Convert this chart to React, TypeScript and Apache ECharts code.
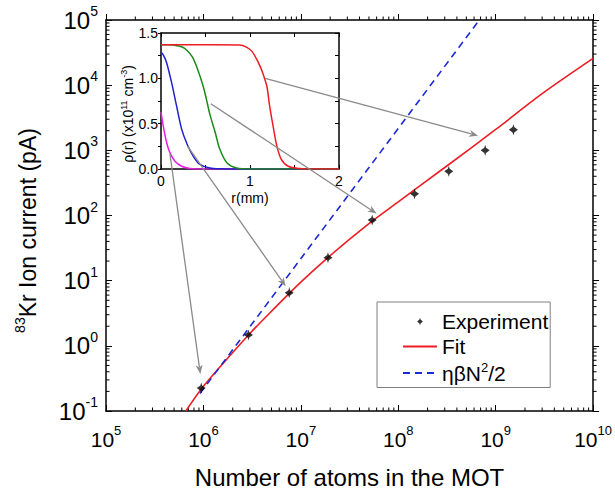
import React, { useEffect, useRef } from 'react';
import * as echarts from 'echarts';

const FONT = "'Liberation Sans', Arial, Helvetica, sans-serif";

// Main plot: experiment points
const expN = [9.5e5, 2.9e6, 7.6e6, 1.9e7, 5.4e7, 1.47e8, 3.3e8, 7.8e8, 1.52e9];
const expI = [0.225, 1.47, 6.5, 22.5, 85, 215, 476, 1000, 2070];

// Fit curve
const fitN = [6.6e5, 1e6, 2e6, 3e6, 5e6, 1e7, 2e7, 5e7, 1e8, 3e8, 1e9, 3e9, 1e10];
const fitI = [0.1, 0.24, 0.79, 1.55, 3.4, 9.5, 24.3, 75, 162, 545, 2090, 7400, 25700];

// eta*beta*N^2/2 dashed line
const dashN = [9.2e5, 6.8e8];
const dashI = [0.185, 1e5];

// Inset density profiles
const redR = [0, 0.3, 0.6, 0.88, 0.96, 1.02, 1.07, 1.11, 1.15, 1.19, 1.22, 1.26, 1.3, 1.35, 1.43, 1.56, 1.7, 2.0];
const redRho = [1.37, 1.37, 1.37, 1.368, 1.345, 1.3, 1.22, 1.14, 1.04, 0.91, 0.7, 0.47, 0.26, 0.11, 0.03, 0.005, 0, 0];
const greenR = [0, 0.1, 0.18, 0.24, 0.29, 0.35, 0.4, 0.475, 0.51, 0.55, 0.61, 0.66, 0.74, 0.85, 1.0, 2.0];
const greenRho = [1.37, 1.37, 1.36, 1.345, 1.31, 1.24, 1.13, 0.91, 0.77, 0.6, 0.4, 0.22, 0.07, 0.012, 0, 0];
const blueR = [0, 0.03, 0.064, 0.12, 0.176, 0.232, 0.295, 0.363, 0.437, 0.55, 0.74, 2.0];
const blueRho = [1.29, 1.25, 1.17, 0.95, 0.69, 0.44, 0.27, 0.14, 0.05, 0.01, 0, 0];
const magR = [0, 0.026, 0.064, 0.1, 0.157, 0.232, 0.325, 0.5, 2.0];
const magRho = [0.63, 0.47, 0.29, 0.18, 0.085, 0.03, 0.006, 0, 0];

// Arrows: start on inset curve (r, rho) -> end in main plot (N, I)
const arrowStarts = [[1.17, 1.0], [0.56, 0.72], [0.3, 0.25], [0.1, 0.17]];
const arrowEnds = [[6.6e8, 1680], [6.0e7, 107], [7.0e6, 8.2], [9.3e5, 0.37]];

// axis structure
const X_MIN = 1e5, X_MAX = 1e10, Y_MIN = 0.1, Y_MAX = 1e5;
const xMinorTicks: number[] = [];
for (let e = 5; e < 10; e++) for (let m = 2; m <= 9; m++) xMinorTicks.push(m * Math.pow(10, e));
const yMinorTicks: number[] = [];
for (let e = -1; e < 5; e++) for (let m = 2; m <= 9; m++) yMinorTicks.push(m * Math.pow(10, e));

const STAR = 'path://M5 0 L5.7 2.6 L8.6 5 L5.7 7.4 L5 10 L4.3 7.4 L1.4 5 L4.3 2.6 Z';

const powLabel = (v: number) => {
  const e = Math.round(Math.log10(v));
  return '{b|10}{s|' + e + '}';
};

const xLabelRich = {
  b: { fontSize: 21, lineHeight: 30, fontFamily: FONT, color: '#000' },
  s: { fontSize: 13, lineHeight: 14, verticalAlign: 'top', fontFamily: FONT, color: '#000' },
};
const yLabelRich = {
  b: { fontSize: 24, lineHeight: 32, fontFamily: FONT, color: '#000' },
  s: { fontSize: 14, lineHeight: 15, verticalAlign: 'top', fontFamily: FONT, color: '#000' },
};

export default function App() {
  const ref = useRef<HTMLDivElement>(null);
  useEffect(() => {
    if (!ref.current) return;
    const chart = echarts.init(ref.current, undefined, { renderer: 'svg' });
    const black = { color: '#000' };
    const option: any = {
      animation: false,
      backgroundColor: '#fff',
      grid: [
        { left: 106, top: 20, width: 488, height: 392, show: false },
        { left: 161, top: 33, width: 178, height: 136, show: true, backgroundColor: '#fff', borderWidth: 0 },
      ],
      legend: {
        left: 377,
        top: 302,
        orient: 'vertical',
        align: 'left',
        padding: [9, 2, 4, 25],
        itemGap: 4,
        itemWidth: 34,
        itemHeight: 8,
        borderColor: '#808080',
        borderWidth: 1,
        backgroundColor: '#fff',
        data: [
          { name: 'Experiment' },
          { name: 'Fit', itemStyle: { opacity: 0 } },
          { name: 'dash', itemStyle: { opacity: 0 } },
        ],
        formatter: (name: string) => (name === 'dash' ? '{n|ηβN}{s|2}{n|/2}' : '{n|' + name + '}'),
        textStyle: {
          fontFamily: FONT,
          fontSize: 21,
          color: '#000',
          rich: {
            n: { fontSize: 21, lineHeight: 24, fontFamily: FONT, color: '#000' },
            s: { fontSize: 13, lineHeight: 14, verticalAlign: 'top', fontFamily: FONT, color: '#000' },
          },
        },
      },
      xAxis: [
        {
          type: 'log', gridIndex: 0, min: X_MIN, max: X_MAX, logBase: 10,
          axisLine: { show: true, onZero: false, lineStyle: { color: '#000', width: 1.5 } },
          axisTick: { show: true, inside: true, length: 6, lineStyle: { color: '#000', width: 1 } },
          axisLabel: { formatter: powLabel, rich: xLabelRich, margin: 13, showMinLabel: true, showMaxLabel: true },
          splitLine: { show: false },
          name: 'Number of atoms in the MOT',
          nameLocation: 'middle',
          nameGap: 54,
          nameTextStyle: { fontFamily: FONT, fontSize: 24, color: '#000' },
        },
        {
          type: 'log', gridIndex: 0, position: 'top', min: X_MIN, max: X_MAX, logBase: 10,
          axisLine: { show: true, onZero: false, lineStyle: { color: '#000', width: 1.5 } },
          axisTick: { show: true, inside: false, length: 6, lineStyle: { color: '#000', width: 1 } },
          axisLabel: { show: false },
          splitLine: { show: false },
        },
        {
          type: 'value', gridIndex: 1, min: 0, max: 2, interval: 1,
          axisLine: { show: true, onZero: false, lineStyle: { color: '#000', width: 1.5 } },
          axisTick: { show: true, inside: true, length: 4, lineStyle: black },
          minorTick: { show: true, splitNumber: 2, length: 4, lineStyle: black },
          axisLabel: { fontFamily: FONT, fontSize: 14, lineHeight: 14, color: '#000', margin: 5 },
          splitLine: { show: false },
          name: 'r(mm)',
          nameLocation: 'middle',
          nameGap: 22,
          nameTextStyle: { fontFamily: FONT, fontSize: 14, color: '#000' },
        },
        {
          type: 'value', gridIndex: 1, position: 'top', min: 0, max: 2, interval: 1,
          axisLine: { show: true, onZero: false, lineStyle: { color: '#000', width: 1.5 } },
          axisTick: { show: true, inside: true, length: 4, lineStyle: black },
          minorTick: { show: true, splitNumber: 2, length: 4, lineStyle: black },
          axisLabel: { show: false },
          splitLine: { show: false },
        },
      ],
      yAxis: [
        {
          type: 'log', gridIndex: 0, min: Y_MIN, max: Y_MAX, logBase: 10,
          axisLine: { show: true, onZero: false, lineStyle: { color: '#000', width: 1.5 } },
          axisTick: { show: true, inside: true, length: 6, lineStyle: { color: '#000', width: 1 } },
          axisLabel: { formatter: powLabel, rich: yLabelRich, margin: 8, showMinLabel: true, showMaxLabel: true },
          splitLine: { show: false },
          name: '{s|83}{n|Kr Ion current (pA)}',
          nameLocation: 'middle',
          nameGap: 63,
          nameTextStyle: {
            fontFamily: FONT, fontSize: 23, color: '#000',
            padding: [0, 30, 0, 0],
            rich: {
              n: { fontSize: 23, lineHeight: 30, fontFamily: FONT, color: '#000' },
              s: { fontSize: 14, lineHeight: 15, verticalAlign: 'top', fontFamily: FONT, color: '#000' },
            },
          },
        },
        {
          type: 'log', gridIndex: 0, position: 'right', min: Y_MIN, max: Y_MAX, logBase: 10,
          axisLine: { show: true, onZero: false, lineStyle: { color: '#000', width: 1.5 } },
          axisTick: { show: true, inside: false, length: 6, lineStyle: { color: '#000', width: 1 } },
          axisLabel: { show: false },
          splitLine: { show: false },
        },
        {
          type: 'value', gridIndex: 1, min: 0, max: 1.5, interval: 0.5,
          axisLine: { show: true, onZero: false, lineStyle: { color: '#000', width: 1.5 } },
          axisTick: { show: true, inside: false, length: 3, lineStyle: black },
          minorTick: { show: true, splitNumber: 2, length: 3, lineStyle: black },
          axisLabel: { fontFamily: FONT, fontSize: 14, lineHeight: 12, color: '#000', margin: 3, formatter: (v: number) => v.toFixed(1) },
          splitLine: { show: false },
          name: '{n|ρ(r) (x10}{s|11}{n| cm}{s|-3}{n|)}',
          nameLocation: 'middle',
          nameGap: 21,
          nameTextStyle: {
            fontFamily: FONT, fontSize: 14, color: '#000',
            padding: [0, 26, 0, 0],
            rich: {
              n: { fontSize: 14, lineHeight: 16, fontFamily: FONT, color: '#000' },
              s: { fontSize: 9, lineHeight: 10, verticalAlign: 'top', fontFamily: FONT, color: '#000' },
            },
          },
        },
        {
          type: 'value', gridIndex: 1, position: 'right', min: 0, max: 1.5, interval: 0.5,
          axisLine: { show: true, onZero: false, lineStyle: { color: '#000', width: 1.5 } },
          axisTick: { show: true, inside: true, length: 4, lineStyle: black },
          minorTick: { show: true, splitNumber: 2, length: 4, lineStyle: black },
          axisLabel: { show: false },
          splitLine: { show: false },
        },
      ],
      series: [
        {
          type: 'custom', name: 'xminor', xAxisIndex: 0, yAxisIndex: 0, silent: true, clip: false,
          data: xMinorTicks.map((v) => [v, 1]),
          renderItem: (params: any, api: any) => {
            const v = api.value(0);
            const pb = api.coord([v, Y_MIN]);
            const pt = api.coord([v, Y_MAX]);
            return {
              type: 'group',
              children: [
                { type: 'line', shape: { x1: pb[0], y1: pb[1], x2: pb[0], y2: pb[1] - 3.5 }, style: { stroke: '#000', lineWidth: 1 } },
                { type: 'line', shape: { x1: pt[0], y1: pt[1], x2: pt[0], y2: pt[1] - 3.5 }, style: { stroke: '#000', lineWidth: 1 } },
              ],
            };
          },
        },
        {
          type: 'custom', name: 'yminor', xAxisIndex: 0, yAxisIndex: 0, silent: true, clip: false,
          data: yMinorTicks.map((v) => [1e6, v]),
          renderItem: (params: any, api: any) => {
            const v = api.value(1);
            const pl = api.coord([X_MIN, v]);
            const pr = api.coord([X_MAX, v]);
            return {
              type: 'group',
              children: [
                { type: 'line', shape: { x1: pl[0], y1: pl[1], x2: pl[0] + 3.5, y2: pl[1] }, style: { stroke: '#000', lineWidth: 1 } },
                { type: 'line', shape: { x1: pr[0], y1: pr[1], x2: pr[0] + 3.5, y2: pr[1] }, style: { stroke: '#000', lineWidth: 1 } },
              ],
            };
          },
        },
        {
          type: 'line', name: 'Fit', xAxisIndex: 0, yAxisIndex: 0,
          data: fitN.map((n, i) => [n, fitI[i]]),
          symbol: 'none', showSymbol: false, smooth: 0.3,
          lineStyle: { color: '#ee1c24', width: 1.6 },
          itemStyle: { color: '#ee1c24' },
          z: 3,
        },
        {
          type: 'line', name: 'dash', xAxisIndex: 0, yAxisIndex: 0,
          data: dashN.map((n, i) => [n, dashI[i]]),
          symbol: 'none', showSymbol: false,
          lineStyle: { color: '#1c2ad4', width: 1.6, type: [7, 5] },
          itemStyle: { color: '#1c2ad4' },
          z: 3,
        },
        {
          type: 'scatter', name: 'Experiment', xAxisIndex: 0, yAxisIndex: 0,
          data: expN.map((n, i) => [n, expI[i]]),
          symbol: STAR, symbolSize: [9, 11],
          itemStyle: { color: '#000' },
          z: 5,
        },
        {
          type: 'line', name: 'mag', xAxisIndex: 2, yAxisIndex: 2,
          data: magR.map((r, i) => [r, magRho[i]]),
          symbol: 'none', smooth: 0.3, lineStyle: { color: '#e61ee6', width: 1.5 },
        },
        {
          type: 'line', name: 'blue', xAxisIndex: 2, yAxisIndex: 2,
          data: blueR.map((r, i) => [r, blueRho[i]]),
          symbol: 'none', smooth: 0.3, lineStyle: { color: '#2020d0', width: 1.5 },
        },
        {
          type: 'line', name: 'green', xAxisIndex: 2, yAxisIndex: 2,
          data: greenR.map((r, i) => [r, greenRho[i]]),
          symbol: 'none', smooth: 0.3, lineStyle: { color: '#1a8c1a', width: 1.5 },
        },
        {
          type: 'line', name: 'red', xAxisIndex: 2, yAxisIndex: 2,
          data: redR.map((r, i) => [r, redRho[i]]),
          symbol: 'none', smooth: 0.3, lineStyle: { color: '#ee1c24', width: 1.5 },
        },
      ],
    };
    chart.setOption(option);

    const elements: any[] = [];
    arrowStarts.forEach((s, i) => {
      const p0 = chart.convertToPixel({ xAxisIndex: 2, yAxisIndex: 2 } as any, s) as number[];
      const p1 = chart.convertToPixel({ xAxisIndex: 0, yAxisIndex: 0 } as any, arrowEnds[i]) as number[];
      if (!p0 || !p1) return;
      const dx = p1[0] - p0[0];
      const dy = p1[1] - p0[1];
      const L = Math.hypot(dx, dy);
      const ux = dx / L, uy = dy / L;
      const hl = 9, hw = 3.5;
      const bx = p1[0] - ux * hl, by = p1[1] - uy * hl;
      elements.push({
        type: 'line', z: 20, silent: true,
        shape: { x1: p0[0], y1: p0[1], x2: bx + ux * 2, y2: by + uy * 2 },
        style: { stroke: '#8a8a8a', lineWidth: 1.3 },
      });
      elements.push({
        type: 'polygon', z: 20, silent: true,
        shape: { points: [[p1[0], p1[1]], [bx - uy * hw, by + ux * hw], [bx + ux * 2.5, by + uy * 2.5], [bx + uy * hw, by - ux * hw]] },
        style: { fill: '#8a8a8a' },
      });
    });
    chart.setOption({ graphic: elements });

    return () => chart.dispose();
  }, []);
  return <div ref={ref} style={{ position: 'fixed', left: 0, top: 0, width: 615, height: 494 }} />;
}
